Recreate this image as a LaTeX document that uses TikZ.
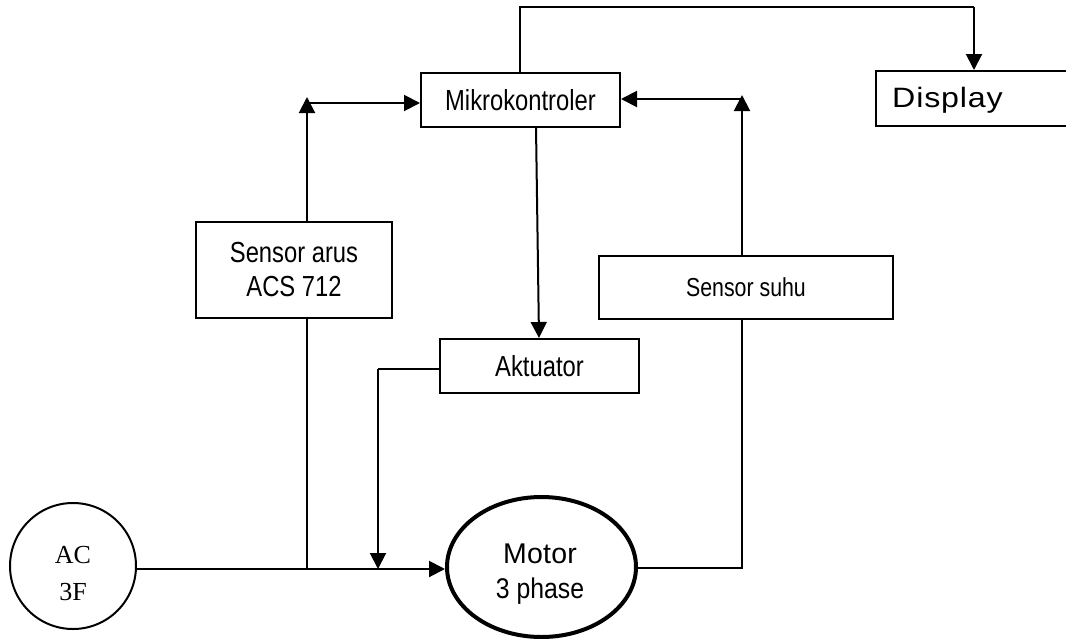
\documentclass[tikz,border=0pt]{standalone}
\usepackage{fontspec}
\setmainfont[FakeStretch=0.82]{Liberation Sans}
\newfontfamily\dispfont[FakeStretch=1.15,LetterSpace=3]{Liberation Sans}
\newfontfamily\motfont[LetterSpace=1]{Liberation Sans}
\newfontfamily\phfont[FakeStretch=0.87]{Liberation Sans}
\newfontfamily\serfont{Liberation Serif}
\usetikzlibrary{arrows.meta,shapes.geometric}
\begin{document}
\begin{tikzpicture}[x=1pt,y=-1pt,
  every node/.style={font=\fontsize{29}{34}\selectfont},
  box/.style={draw,line width=2pt,rectangle,inner sep=0pt,align=center},
  conn/.style={line width=2pt},
  arr/.style={line width=2pt,-{Triangle[length=16pt,width=16pt]}}]
\useasboundingbox (0,0) rectangle (1066,638);
\fill[white] (0,0) rectangle (1066,638);
% nodes
\node[box,minimum width=199pt,minimum height=54pt] (mikro) at (520.5,100) {Mikrokontroler};
\node[box,minimum width=215pt,minimum height=55pt,anchor=west] (display) at (875,98.5) {};
\node[font=\dispfont\fontsize{28}{34}\selectfont] (disptext) at (947.5,100) {Display};
\node[box,minimum width=196pt,minimum height=96pt] (arus) at (294,270) {Sensor arus\\ACS 712};
\node[box,minimum width=199pt,minimum height=54pt] (akt) at (539.5,366) {Aktuator};
\node[box,minimum width=294pt,minimum height=63pt,font=\fontsize{26}{30}\selectfont] (suhu) at (746,287.5) {Sensor suhu};
\node[draw,circle,line width=2pt,minimum size=126pt,inner sep=0pt] (ac) at (73,566) {};
\node[align=center,font=\serfont\fontsize{26}{37}\selectfont] (actext) at (73,574) {AC\\3F};
\node[draw,ellipse,line width=4pt,minimum width=189pt,minimum height=140pt,inner sep=0pt] (motor) at (541.5,567) {};
\node[align=center,font=\fontsize{28.5}{35}\selectfont] (motortext) at (540,574) {{\motfont Motor}\\{\phfont 3 phase}};
% helper coordinates
\coordinate (jA) at (307,569);
\coordinate (tA) at (307,97);
\coordinate (hA) at (306,103);
\coordinate (dA) at (378,369);
\coordinate (dB) at (378,569);
\coordinate (mT) at (520,7);
\coordinate (dT) at (974,7);
\coordinate (sB) at (742,568);
\coordinate (tS) at (742,95);
\coordinate (hS) at (742,99);
% connectors
\draw[arr] (ac.east |- 0,569) -- (motor.west |- 0,569);
\draw[conn] (arus.south -| jA) -- (jA);
\draw[arr] (arus.north -| tA) -- (tA);
\draw[arr] (hA) -- (mikro.west |- hA);
\draw[arr] (536,127) -- (akt.north -| 539,0);
\draw[conn] (akt.west |- dA) -- (dA);
\draw[arr] (dA) -- (dB);
\draw[conn] (mikro.north -| mT) -- (mT) -- (dT);
\draw[arr] (dT) -- (display.north -| dT);
\draw[conn] (motor.east |- sB) -- (sB) -- (suhu.south -| sB);
\draw[arr] (suhu.north -| tS) -- (tS);
\draw[arr] (hS) -- (mikro.east |- hS);
\end{tikzpicture}
\end{document}
